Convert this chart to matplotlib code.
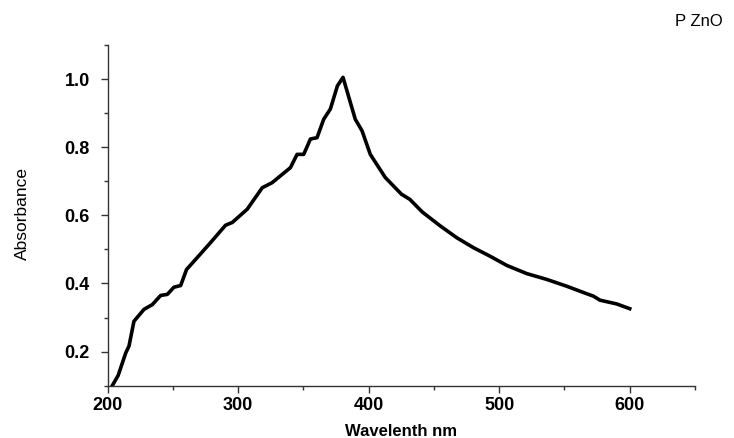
import matplotlib
matplotlib.use("Agg")
import matplotlib.pyplot as plt
from matplotlib.ticker import MultipleLocator

wavelength = [203.5, 208, 213.8, 216.3, 220.1, 227.8, 234.2, 240.6, 245.7, 250.7,
              255.9, 260.4, 268.6, 278.8, 290.3, 295.4, 306.9, 318.4, 326.0, 340.0,
              345.1, 350.2, 355.3, 360.4, 365.5, 370.6, 376.0, 380.3, 389.7, 394.9,
              401.2, 412.7, 425.1, 431.5, 441.0, 454.8, 467.6, 480.3, 493.0, 505.8,
              521.1, 536.4, 551.7, 567.0, 572.1, 577.2, 590.0, 600.0]
absorbance = [0.100, 0.130, 0.196, 0.216, 0.289, 0.324, 0.338, 0.365, 0.368, 0.389,
              0.394, 0.441, 0.476, 0.520, 0.571, 0.579, 0.618, 0.681, 0.696, 0.740,
              0.779, 0.779, 0.824, 0.828, 0.882, 0.912, 0.980, 1.005, 0.882, 0.848,
              0.779, 0.711, 0.662, 0.647, 0.610, 0.569, 0.534, 0.505, 0.480, 0.453,
              0.429, 0.412, 0.392, 0.370, 0.363, 0.351, 0.340, 0.326]
x_ticks = [200, 300, 400, 500, 600]
y_ticks = [0.2, 0.4, 0.6, 0.8, 1.0]

plt.rcParams['font.family'] = ['Liberation Sans', 'DejaVu Sans']

fig = plt.figure(figsize=(7.34, 4.38), dpi=100)
ax = fig.add_axes([107.7/734, 1-385.7/438, (695-107.7)/734, (385.7-45)/438])

ax.plot(wavelength, absorbance, color='black', lw=2.6, solid_joinstyle='round')

ax.set_xlim(200, 650)
ax.set_ylim(0.1, 1.1)
ax.set_xticks(x_ticks)
ax.set_yticks(y_ticks)
ax.xaxis.set_minor_locator(MultipleLocator(50))
ax.yaxis.set_minor_locator(MultipleLocator(0.1))
ax.set_xticklabels([str(v) for v in x_ticks], fontweight='bold', fontsize=13)
ax.set_yticklabels([f"{v:.1f}" for v in y_ticks], fontweight='bold', fontsize=13)

for s in ['top', 'right']:
    ax.spines[s].set_visible(False)
for s in ['left', 'bottom']:
    ax.spines[s].set_linewidth(1.0)
    ax.spines[s].set_color('#333333')
ax.tick_params(which='major', direction='out', length=5, width=1, color='#333333')
ax.tick_params(axis='y', which='major', pad=8)
ax.tick_params(axis='x', which='major', pad=3)
ax.tick_params(which='minor', direction='out', length=3, width=1, color='#333333')

ax.set_xlabel('Wavelenth nm', fontweight='bold', fontsize=12, labelpad=7)
fig.text(22/734, 1-214/438, 'Absorbance', rotation=90, ha='center', va='center',
         fontsize=12.5, family=['Liberation Sans Narrow', 'Liberation Sans', 'DejaVu Sans'])
fig.text(699/734, 1-21/438, 'P ZnO', ha='center', va='center', fontsize=12)

fig.savefig('out.png', dpi=100)
